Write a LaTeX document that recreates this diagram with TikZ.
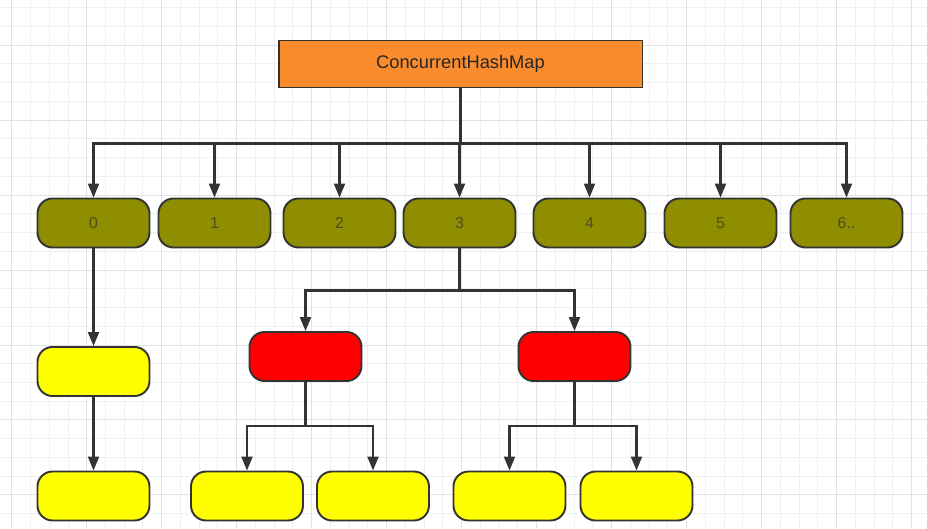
\documentclass[tikz,border=0pt]{standalone}
\usepackage{fontspec}
\setmainfont{Liberation Sans}
\usetikzlibrary{arrows.meta}
\definecolor{gridminor}{HTML}{F0F0F0}
\definecolor{gridmajor}{HTML}{E2E2E2}
\definecolor{mapfill}{HTML}{FB8C2E}
\definecolor{segfill}{HTML}{8E8E00}
\definecolor{segtext}{HTML}{4E4E1E}
\definecolor{leaffill}{HTML}{FFFF00}
\definecolor{linedark}{HTML}{333333}
\begin{document}
\begin{tikzpicture}[x=0.02cm, y=-0.02cm,
    box/.style={draw=linedark, line width=1.1pt, inner sep=0pt},
    mapbox/.style={box, fill=mapfill, minimum width=7.28cm, minimum height=0.94cm, font=\fontsize{10.4}{12}\selectfont, text=black!85},
    segbox/.style={box, rounded corners=0.3cm, fill=segfill, minimum width=2.24cm, minimum height=0.98cm, font=\fontsize{9}{11}\selectfont, text=segtext},
    binbox/.style={box, rounded corners=0.3cm, fill=red, minimum width=2.24cm, minimum height=0.98cm},
    leafbox/.style={box, rounded corners=0.3cm, fill=leaffill, minimum width=2.24cm, minimum height=0.98cm},
    conn/.style={draw=linedark, line width=1.2pt, -{Triangle[width=0.22cm, length=0.28cm]}}]
    \fill[white] (0,0) rectangle (927,528);
    \useasboundingbox (0,0) rectangle (927,528);
    % background grid
    \begin{scope}[shift={(11.7,45)}]
        \draw[gridminor, line width=0.5pt] (-11.7,-45) grid[step=0.375cm] (915.3,483);
        \draw[gridmajor, line width=0.5pt] (-11.7,-45) grid[step=1.5cm] (915.3,483);
    \end{scope}
    % map and segments
    \node[mapbox] (chm) at (460.5,64) {ConcurrentHashMap};
    \node[segbox] (s0) at (93.5,223) {0};
    \node[segbox] (s1) at (214.5,223) {1};
    \node[segbox] (s2) at (339.5,223) {2};
    \node[segbox] (s3) at (459.5,223) {3};
    \node[segbox] (s4) at (589.5,223) {4};
    \node[segbox] (s5) at (720.5,223) {5};
    \node[segbox] (s6) at (846.5,223) {6..};
    \draw[conn] (chm.south) -- ++(0,55) -| (s0.north);
    \draw[conn] (chm.south) -- ++(0,55) -| (s1.north);
    \draw[conn] (chm.south) -- ++(0,55) -| (s2.north);
    \draw[conn] (chm.south) -- ++(0,55) -| (s3.north);
    \draw[conn] (chm.south) -- ++(0,55) -| (s4.north);
    \draw[conn] (chm.south) -- ++(0,55) -| (s5.north);
    \draw[conn] (chm.south) -- ++(0,55) -| (s6.north);
    % list under segment 0
    \node[leafbox] (l0a) at (93.5,371.5) {};
    \node[leafbox] (l0b) at (93.5,496) {};
    \draw[conn] (s0.south) -- (l0a.north);
    \draw[conn] (l0a.south) -- (l0b.north);
    % trees under segment 3
    \node[binbox] (t1) at (305.5,356.5) {};
    \node[binbox] (t2) at (574.5,356.5) {};
    \draw[conn] (s3.south) -- ++(0,42) -| (t1.north);
    \draw[conn] (s3.south) -- ++(0,42) -| (t2.north);
    \node[leafbox] (l1) at (247,496) {};
    \node[leafbox] (l2) at (373,496) {};
    \node[leafbox] (l3) at (509.5,496) {};
    \node[leafbox] (l4) at (636.5,496) {};
    \draw[conn] (t1.south) -- ++(0,44) -| (l1.north);
    \draw[conn] (t1.south) -- ++(0,44) -| (l2.north);
    \draw[conn] (t2.south) -- ++(0,44) -| (l3.north);
    \draw[conn] (t2.south) -- ++(0,44) -| (l4.north);
\end{tikzpicture}
\end{document}
